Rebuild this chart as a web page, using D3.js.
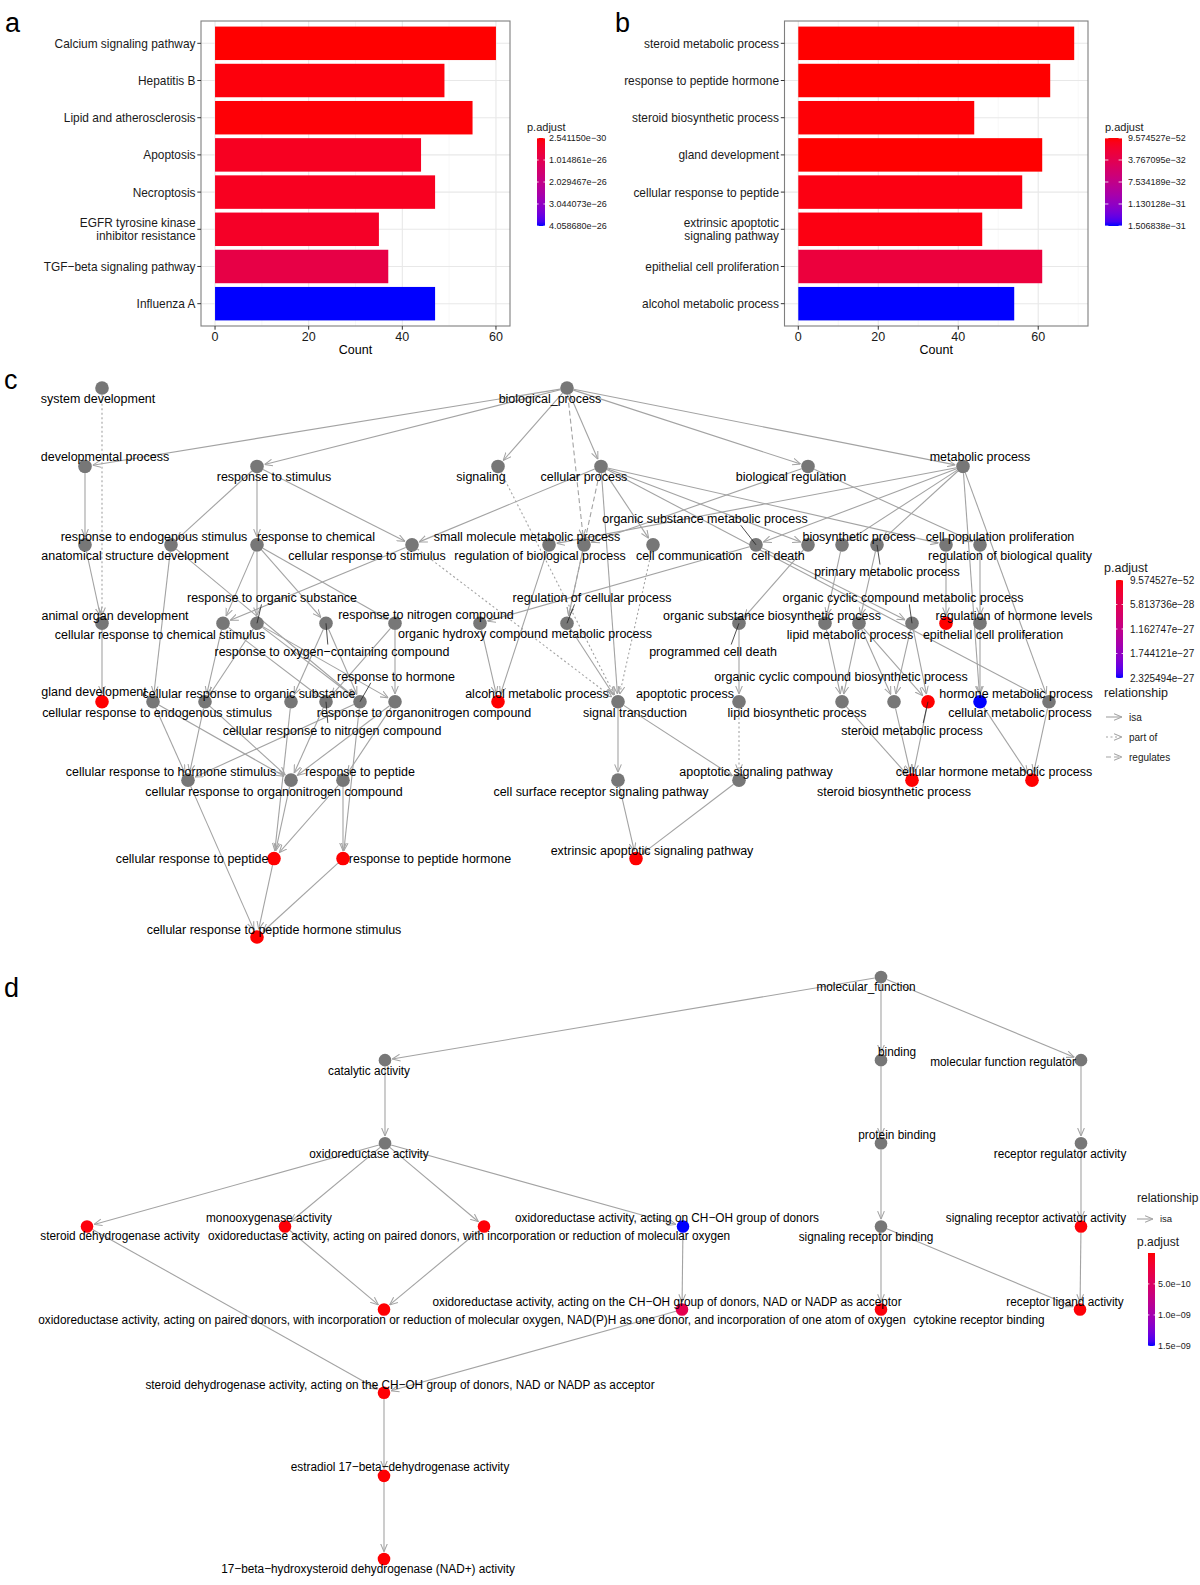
<!DOCTYPE html>
<html><head><meta charset="utf-8">
<script src="https://cdn.jsdelivr.net/npm/d3@7"></script>
<style>
body{margin:0;background:#fff}
text{font-family:"Liberation Sans",Arial,Helvetica,sans-serif}
</style></head>
<body><svg id="chart" width="1200" height="1585"></svg>
<script>
// ------------------------- DATA -------------------------
// Panel a: KEGG enrichment
const keggTerms = ["Calcium signaling pathway","Hepatitis B","Lipid and atherosclerosis","Apoptosis","Necroptosis","EGFR tyrosine kinase\ninhibitor resistance","TGF−beta signaling pathway","Influenza A"];
const keggCounts = [60, 49, 55, 44, 47, 35, 37, 47];
const keggPadj = [2.54115e-30, 8.0e-28, 4.0e-28, 2.9e-27, 2.7e-27, 3.7e-27, 8.6e-27, 4.05868e-26];
const keggLegendValues = [2.541150e-30, 1.014861e-26, 2.029467e-26, 3.044073e-26, 4.058680e-26];
const keggLegendLabels = ["2.541150e−30","1.014861e−26","2.029467e−26","3.044073e−26","4.058680e−26"];

// Panel b: GO enrichment
const goTerms = ["steroid metabolic process","response to peptide hormone","steroid biosynthetic process","gland development","cellular response to peptide","extrinsic apoptotic\nsignaling pathway","epithelial cell proliferation","alcohol metabolic process"];
const goCounts = [69, 63, 44, 61, 56, 46, 61, 54];
const goPadj = [9.574527e-52, 1e-40, 1.5e-33, 1e-38, 4.5e-33, 4.5e-33, 2.6e-32, 1.506838e-31];
const goLegendValues = [9.574527e-52, 3.767095e-32, 7.534189e-32, 1.130128e-31, 1.506838e-31];
const goLegendLabels = ["9.574527e−52","3.767095e−32","7.534189e−32","1.130128e−31","1.506838e−31"];

const countTicks = [0, 20, 40, 60];

// Panel c: GO BP graph (x = layout x, layer = layout rank, lx/ldy = repelled label position)
const bpNodes = [
 {id:"sysdev", label:"system development", x:102, layer:1, lx:98, ldy:0.13},
 {id:"bp", label:"biological_process", x:567, layer:1, lx:550, ldy:0.13},
 {id:"devproc", label:"developmental process", x:85, layer:2, lx:105, ldy:-0.13},
 {id:"respstim", label:"response to stimulus", x:257, layer:2, lx:274, ldy:0.13},
 {id:"signaling", label:"signaling", x:498, layer:2, lx:481, ldy:0.13},
 {id:"cellproc", label:"cellular process", x:601, layer:2, lx:584, ldy:0.13},
 {id:"bioreg", label:"biological regulation", x:808, layer:2, lx:791, ldy:0.13},
 {id:"metab", label:"metabolic process", x:963, layer:2, lx:980, ldy:-0.13},
 {id:"anatdev", label:"anatomical structure development", x:85, layer:3, lx:135, ldy:0.13},
 {id:"respendo", label:"response to endogenous stimulus", x:171, layer:3, lx:154, ldy:-0.11},
 {id:"respchem", label:"response to chemical", x:257, layer:3, lx:316, ldy:-0.11},
 {id:"cellrespstim", label:"cellular response to stimulus", x:412, layer:3, lx:367, ldy:0.13},
 {id:"smallmol", label:"small molecule metabolic process", x:549, layer:3, lx:527, ldy:-0.11},
 {id:"regbioproc", label:"regulation of biological process", x:584, layer:3, lx:540, ldy:0.13},
 {id:"cellcomm", label:"cell communication", x:653, layer:3, lx:689, ldy:0.13},
 {id:"orgsubmet", label:"organic substance metabolic process", x:756, layer:3, lx:705, ldy:-0.34, leader:true},
 {id:"celldeath", label:"cell death", x:808, layer:3, lx:778, ldy:0.13},
 {id:"biosyn", label:"biosynthetic process", x:842, layer:3, lx:859, ldy:-0.11},
 {id:"primmet", label:"primary metabolic process", x:877, layer:3, lx:887, ldy:0.34, leader:true},
 {id:"cellpopprol", label:"cell population proliferation", x:946, layer:3, lx:1000, ldy:-0.11},
 {id:"regbioqual", label:"regulation of biological quality", x:980, layer:3, lx:1010, ldy:0.13},
 {id:"animorg", label:"animal organ development", x:102, layer:4, lx:115, ldy:-0.10},
 {id:"cellrespchem", label:"cellular response to chemical stimulus", x:223, layer:4, lx:160, ldy:0.14},
 {id:"resporg", label:"response to organic substance", x:257, layer:4, lx:272, ldy:-0.33, leader:true},
 {id:"respoxy", label:"response to oxygen−containing compound", x:326, layer:4, lx:332, ldy:0.36, leader:true},
 {id:"respnit", label:"response to nitrogen compound", x:395, layer:4, lx:426, ldy:-0.11},
 {id:"orghydroxy", label:"organic hydroxy compound metabolic process", x:480, layer:4, lx:525, ldy:0.13},
 {id:"regcellproc", label:"regulation of cellular process", x:567, layer:4, lx:592, ldy:-0.33, leader:true},
 {id:"progdeath", label:"programmed cell death", x:739, layer:4, lx:713, ldy:0.36, leader:true},
 {id:"orgsubbiosyn", label:"organic substance biosynthetic process", x:825, layer:4, lx:772, ldy:-0.10},
 {id:"lipidmet", label:"lipid metabolic process", x:859, layer:4, lx:850, ldy:0.14},
 {id:"orgcyclic", label:"organic cyclic compound metabolic process", x:912, layer:4, lx:903, ldy:-0.33, leader:true},
 {id:"epithel", label:"epithelial cell proliferation", x:946, layer:4, lx:993, ldy:0.14, padj:3e-40},
 {id:"reghormlev", label:"regulation of hormone levels", x:980, layer:4, lx:1014, ldy:-0.10},
 {id:"glanddev", label:"gland development", x:102, layer:5, lx:94, ldy:-0.13, padj:1e-45},
 {id:"cellrespendo", label:"cellular response to endogenous stimulus", x:153, layer:5, lx:157, ldy:0.14},
 {id:"cellresporg", label:"cellular response to organic substance", x:205, layer:5, lx:249, ldy:-0.11},
 {id:"cellrespoxy", label:"", x:291, layer:5, lx:291, ldy:0},
 {id:"cellrespnit", label:"cellular response to nitrogen compound", x:326, layer:5, lx:332, ldy:0.36, leader:true},
 {id:"resphorm", label:"response to hormone", x:360, layer:5, lx:396, ldy:-0.33, leader:true},
 {id:"resporgnit", label:"response to organonitrogen compound", x:395, layer:5, lx:424, ldy:0.14},
 {id:"alcohol", label:"alcohol metabolic process", x:498, layer:5, lx:537, ldy:-0.11, padj:5e-30},
 {id:"sigtrans", label:"signal transduction", x:618, layer:5, lx:635, ldy:0.14},
 {id:"apopproc", label:"apoptotic process", x:739, layer:5, lx:685, ldy:-0.11},
 {id:"lipidbiosyn", label:"lipid biosynthetic process", x:842, layer:5, lx:797, ldy:0.14},
 {id:"orgcycbiosyn", label:"organic cyclic compound biosynthetic process", x:894, layer:5, lx:841, ldy:-0.33},
 {id:"steroidmet", label:"steroid metabolic process", x:928, layer:5, lx:912, ldy:0.36, leader:true, padj:9.574527e-52},
 {id:"hormmet", label:"hormone metabolic process", x:980, layer:5, lx:1016, ldy:-0.11, padj:2.325494e-27},
 {id:"cellmet", label:"cellular metabolic process", x:1049, layer:5, lx:1020, ldy:0.14},
 {id:"cellresphorm", label:"cellular response to hormone stimulus", x:188, layer:6, lx:171, ldy:-0.11},
 {id:"cellresporgnit", label:"cellular response to organonitrogen compound", x:291, layer:6, lx:274, ldy:0.14},
 {id:"resppep", label:"response to peptide", x:343, layer:6, lx:360, ldy:-0.11},
 {id:"cellsurf", label:"cell surface receptor signaling pathway", x:618, layer:6, lx:601, ldy:0.14},
 {id:"apopsig", label:"apoptotic signaling pathway", x:739, layer:6, lx:756, ldy:-0.11},
 {id:"steroidbiosyn", label:"steroid biosynthetic process", x:912, layer:6, lx:894, ldy:0.14, padj:2e-40},
 {id:"cellhormmet", label:"cellular hormone metabolic process", x:1032, layer:6, lx:994, ldy:-0.11, padj:1e-36},
 {id:"cellresppep", label:"cellular response to peptide", x:274, layer:7, lx:192, ldy:0, padj:1e-44},
 {id:"resppephorm", label:"response to peptide hormone", x:343, layer:7, lx:430, ldy:0, padj:1e-48},
 {id:"extrinsic", label:"extrinsic apoptotic signaling pathway", x:636, layer:7, lx:652, ldy:-0.11, padj:1e-38},
 {id:"cellresppephorm", label:"cellular response to peptide hormone stimulus", x:257, layer:8, lx:274, ldy:-0.10, padj:1e-42}
];
const bpEdges = [
 ["bp","devproc","isa"],["bp","respstim","isa"],["bp","signaling","isa"],["bp","cellproc","isa"],["bp","bioreg","isa"],["bp","metab","isa"],["bp","regbioproc","regulates"],
 ["sysdev","animorg","partof"],
 ["devproc","anatdev","isa"],["anatdev","animorg","isa"],["animorg","glanddev","isa"],
 ["respstim","respendo","isa"],["respstim","respchem","isa"],["respstim","cellrespstim","isa"],["cellproc","cellrespstim","isa"],
 ["respchem","cellrespchem","isa"],["respchem","resporg","isa"],["respchem","respoxy","isa"],["respchem","respnit","isa"],["cellrespstim","cellrespchem","isa"],
 ["cellrespstim","sigtrans","partof"],["signaling","sigtrans","partof"],["cellcomm","sigtrans","partof"],
 ["cellproc","regcellproc","regulates"],["regbioproc","regcellproc","isa"],["bioreg","regbioproc","isa"],["cellproc","cellcomm","isa"],["cellproc","sigtrans","isa"],["regcellproc","sigtrans","isa"],
 ["sigtrans","cellsurf","isa"],["sigtrans","apopsig","isa"],["apopproc","apopsig","partof"],["progdeath","apopproc","isa"],["celldeath","progdeath","isa"],["cellsurf","extrinsic","isa"],["apopsig","extrinsic","isa"],
 ["cellproc","celldeath","isa"],["cellproc","cellpopprol","isa"],["cellproc","cellmet","isa"],
 ["metab","smallmol","isa"],["metab","orgsubmet","isa"],["metab","biosyn","isa"],["metab","primmet","isa"],["metab","hormmet","isa"],["metab","cellmet","isa"],
 ["bioreg","regbioqual","isa"],["regbioqual","reghormlev","isa"],["reghormlev","hormmet","isa"],["cellpopprol","epithel","isa"],
 ["hormmet","cellhormmet","isa"],["cellmet","cellhormmet","isa"],
 ["biosyn","orgsubbiosyn","isa"],["primmet","lipidmet","isa"],["orgsubmet","orgcyclic","isa"],["orgsubmet","orghydroxy","isa"],
 ["smallmol","alcohol","isa"],["orghydroxy","alcohol","isa"],
 ["orgsubbiosyn","lipidbiosyn","isa"],["lipidmet","lipidbiosyn","isa"],["lipidmet","orgcycbiosyn","isa"],["orgcyclic","orgcycbiosyn","isa"],["lipidmet","steroidmet","isa"],["orgcyclic","steroidmet","isa"],
 ["steroidmet","steroidbiosyn","isa"],["lipidbiosyn","steroidbiosyn","isa"],["orgcycbiosyn","steroidbiosyn","isa"],
 ["resporg","cellresporg","isa"],["cellrespchem","cellresporg","isa"],["resporg","resporgnit","isa"],["resporg","resphorm","isa"],["respendo","resphorm","isa"],["respendo","cellrespendo","isa"],
 ["respnit","resporgnit","isa"],["respnit","cellrespnit","isa"],["cellrespchem","cellrespnit","isa"],["respoxy","cellrespoxy","isa"],["respoxy","resphorm","isa"],
 ["cellrespendo","cellresphorm","isa"],["resphorm","cellresphorm","isa"],["cellresporg","cellresphorm","isa"],["cellresporg","cellresporgnit","isa"],["cellrespnit","cellresporgnit","isa"],["resporgnit","cellresporgnit","isa"],["resporgnit","resppep","isa"],["cellrespendo","cellresporgnit","isa"],
 ["cellrespoxy","cellresppep","isa"],["cellresporgnit","cellresppep","isa"],["resppep","cellresppep","isa"],["resppep","resppephorm","isa"],["resphorm","resppephorm","isa"],
 ["cellresppep","cellresppephorm","isa"],["resppephorm","cellresppephorm","isa"],["cellresphorm","cellresppephorm","isa"]
];
const bpLegendValues = [9.574527e-52, 5.813736e-28, 1.162747e-27, 1.744121e-27, 2.325494e-27];
const bpLegendLabels = ["9.574527e−52","5.813736e−28","1.162747e−27","1.744121e−27","2.325494e−27"];
const relTypes = ["isa","partof","regulates"];
const relLabels = ["isa","part of","regulates"];

// Panel d: GO MF graph
const mfNodes = [
 {id:"mf", label:"molecular_function", x:881, layer:1, lx:866, ldy:0.12},
 {id:"catalytic", label:"catalytic activity", x:385, layer:2, lx:369, ldy:0.12},
 {id:"binding", label:"binding", x:881, layer:2, lx:897, ldy:-0.10},
 {id:"mfreg", label:"molecular function regulator", x:1081, layer:2, lx:1003, ldy:0.02},
 {id:"oxred", label:"oxidoreductase activity", x:385, layer:3, lx:369, ldy:0.12},
 {id:"protbind", label:"protein binding", x:881, layer:3, lx:897, ldy:-0.10},
 {id:"recregact", label:"receptor regulator activity", x:1081, layer:3, lx:1060, ldy:0.12},
 {id:"steroiddh", label:"steroid dehydrogenase activity", x:87, layer:4, lx:120, ldy:0.11, padj:3e-11},
 {id:"monoox", label:"monooxygenase activity", x:285, layer:4, lx:269, ldy:-0.11, padj:2e-11},
 {id:"paired", label:"oxidoreductase activity, acting on paired donors, with incorporation or reduction of molecular oxygen", x:484, layer:4, lx:469, ldy:0.11, padj:2e-11},
 {id:"chohdonors", label:"oxidoreductase activity, acting on CH−OH group of donors", x:683, layer:4, lx:667, ldy:-0.11, padj:1.5e-9},
 {id:"sigrecbind", label:"signaling receptor binding", x:881, layer:4, lx:866, ldy:0.12},
 {id:"sigrecact", label:"signaling receptor activator activity", x:1081, layer:4, lx:1036, ldy:-0.10, padj:2e-11},
 {id:"nadph", label:"oxidoreductase activity, acting on paired donors, with incorporation or reduction of molecular oxygen, NAD(P)H as one donor, and incorporation of one atom of oxygen", x:384, layer:5, lx:472, ldy:0.12, padj:1e-11},
 {id:"nadacc", label:"oxidoreductase activity, acting on the CH−OH group of donors, NAD or NADP as acceptor", x:682, layer:5, lx:667, ldy:-0.10, padj:3.6e-10},
 {id:"cytokine", label:"cytokine receptor binding", x:881, layer:5, lx:979, ldy:0.12, padj:3e-11},
 {id:"recligand", label:"receptor ligand activity", x:1080, layer:5, lx:1065, ldy:-0.10, padj:2e-11},
 {id:"steroidchoh", label:"steroid dehydrogenase activity, acting on the CH−OH group of donors, NAD or NADP as acceptor", x:384, layer:6, lx:400, ldy:-0.10, padj:1e-11},
 {id:"estradiol", label:"estradiol 17−beta−dehydrogenase activity", x:384, layer:7, lx:400, ldy:-0.11, padj:1e-11},
 {id:"hsd", label:"17−beta−hydroxysteroid dehydrogenase (NAD+) activity", x:384, layer:8, lx:368, ldy:0.12, padj:1e-11}
];
const mfEdges = [
 ["mf","catalytic","isa"],["mf","binding","isa"],["mf","mfreg","isa"],["catalytic","oxred","isa"],
 ["oxred","steroiddh","isa"],["oxred","monoox","isa"],["oxred","paired","isa"],["oxred","chohdonors","isa"],
 ["monoox","nadph","isa"],["paired","nadph","isa"],["steroiddh","steroidchoh","isa"],["chohdonors","nadacc","isa"],
 ["nadacc","steroidchoh","isa"],["steroidchoh","estradiol","isa"],["estradiol","hsd","isa"],
 ["binding","protbind","isa"],["protbind","sigrecbind","isa"],["sigrecbind","cytokine","isa"],["sigrecbind","recligand","isa"],
 ["mfreg","recregact","isa"],["recregact","sigrecact","isa"],["sigrecact","recligand","isa"]
];
const mfLegendValues = [2e-12, 1.5e-9];
const mfLegendTicks = [5.0e-10, 1.0e-9, 1.5e-9];
const mfLegendLabels = ["5.0e−10","1.0e−09","1.5e−09"];

// ------------------------- DRAWING -------------------------
const svg = d3.select("#chart");
const defs = svg.append("defs");
const TXT = "#1a1a1a";
const EDGE = "#a3a3a3";
const GREY_NODE = "#777777";
const mkColor = dom => d3.scaleLinear().domain(dom).range(["#FF0000","#0000FF"]).interpolate(d3.interpolateLab).clamp(true);

function ctext(g, x, y, str, size, sx, anchor, fill) {
  return g.append("text")
    .attr("transform", `translate(${x},${y}) scale(${sx},1)`)
    .attr("text-anchor", anchor || "middle")
    .attr("dy", "0.35em")
    .attr("font-size", size)
    .attr("fill", fill || "#000")
    .text(str);
}

function gradient(id, color, dom) {
  const lg = defs.append("linearGradient").attr("id", id).attr("x1",0).attr("y1",0).attr("x2",0).attr("y2",1);
  d3.range(0, 1.0001, 0.05).forEach(t => {
    lg.append("stop").attr("offset", t).attr("stop-color", color(dom[0] + t*(dom[1]-dom[0])));
  });
}

function colorLegend(g, cfg) {
  const {id, color, dom, ticks, labels, titleX, titleY, barX, barY, barW, barH, labelX, titleSize, labelSize} = cfg;
  gradient(id, color, dom);
  g.append("text").attr("x", titleX).attr("y", titleY).attr("font-size", titleSize).attr("fill", TXT).text("p.adjust");
  g.append("rect").attr("x", barX).attr("y", barY).attr("width", barW).attr("height", barH).attr("fill", `url(#${id})`);
  const ly = d3.scaleLinear().domain(dom).range([barY, barY + barH]);
  ticks.forEach((v, i) => {
    const yy = ly(v);
    g.append("line").attr("x1", barX).attr("x2", barX + barW*0.2).attr("y1", yy).attr("y2", yy).attr("stroke", "#fff").attr("stroke-width", 0.8);
    g.append("line").attr("x1", barX + barW*0.8).attr("x2", barX + barW).attr("y1", yy).attr("y2", yy).attr("stroke", "#fff").attr("stroke-width", 0.8);
    g.append("text").attr("x", labelX).attr("y", yy).attr("dy", "0.35em").attr("font-size", labelSize).attr("fill", TXT).text(labels[i]);
  });
}

function barPanel(cfg) {
  const {terms, counts, padj, legVals, legLabels, left, right, top, bottom, letter, letterX, leg} = cfg;
  const g = svg.append("g");
  const xMax = d3.max(counts);
  const x = d3.scaleLinear().domain([-0.05*xMax, 1.05*xMax]).range([left, right]);
  const y = d3.scaleBand().domain(terms).range([top, bottom]).paddingInner(0.1).paddingOuter(0.15);
  const dom = d3.extent(legVals);
  const color = mkColor(dom);
  // grid
  d3.range(10, 1.05*xMax, 20).forEach(v => g.append("line").attr("x1", x(v)).attr("x2", x(v)).attr("y1", top).attr("y2", bottom).attr("stroke", "#f3f3f3").attr("stroke-width", 0.6));
  countTicks.forEach(v => g.append("line").attr("x1", x(v)).attr("x2", x(v)).attr("y1", top).attr("y2", bottom).attr("stroke", "#e8e8e8").attr("stroke-width", 1.1));
  terms.forEach(t => g.append("line").attr("x1", left).attr("x2", right).attr("y1", y(t) + y.bandwidth()/2).attr("y2", y(t) + y.bandwidth()/2).attr("stroke", "#e8e8e8").attr("stroke-width", 1.1));
  // bars
  g.selectAll("rect.bar").data(terms).enter().append("rect")
    .attr("x", x(0)).attr("y", d => y(d))
    .attr("width", (d, i) => x(counts[i]) - x(0)).attr("height", y.bandwidth())
    .attr("fill", (d, i) => color(padj[i]));
  // border
  g.append("rect").attr("x", left).attr("y", top).attr("width", right - left).attr("height", bottom - top)
    .attr("fill", "none").attr("stroke", "#7f7f7f").attr("stroke-width", 1.1);
  // y axis
  terms.forEach(t => {
    const cy = y(t) + y.bandwidth()/2;
    g.append("line").attr("x1", left - 3.7).attr("x2", left).attr("y1", cy).attr("y2", cy).attr("stroke", "#333");
    const lines = t.split("\n");
    lines.forEach((ln, j) => {
      ctext(g, left - 5.5, cy + (j - (lines.length - 1)/2)*13, ln, 12.8, 0.93, "end", TXT);
    });
  });
  // x axis
  countTicks.forEach(v => {
    g.append("line").attr("x1", x(v)).attr("x2", x(v)).attr("y1", bottom).attr("y2", bottom + 3.7).attr("stroke", "#333");
    g.append("text").attr("x", x(v)).attr("y", bottom + 15).attr("text-anchor", "middle").attr("font-size", 12.5).attr("fill", TXT).text(v);
  });
  g.append("text").attr("x", (left + right)/2).attr("y", bottom + 28).attr("text-anchor", "middle").attr("font-size", 12.5).attr("fill", "#000").text("Count");
  svg.append("text").attr("x", letterX).attr("y", 32).attr("font-size", 27).attr("fill", "#000").text(letter);
  colorLegend(g, Object.assign({color, dom, ticks: legVals, labels: legLabels, titleY: 131, barY: 138, barH: 88, titleSize: 11, labelSize: 9}, leg));
}

barPanel({terms: keggTerms, counts: keggCounts, padj: keggPadj, legVals: keggLegendValues, legLabels: keggLegendLabels,
  left: 201, right: 510, top: 21, bottom: 326, letter: "a", letterX: 5,
  leg: {id: "gradA", titleX: 527, barX: 537, barW: 8, labelX: 549}});
barPanel({terms: goTerms, counts: goCounts, padj: goPadj, legVals: goLegendValues, legLabels: goLegendLabels,
  left: 784.5, right: 1088, top: 21, bottom: 326, letter: "b", letterX: 615,
  leg: {id: "gradB", titleX: 1105, barX: 1105, barW: 17, labelX: 1128}});

// arrow markers
function marker(id, color) {
  defs.append("marker").attr("id", id).attr("viewBox", "0 -5 10 10").attr("refX", 10).attr("refY", 0)
    .attr("markerWidth", 8).attr("markerHeight", 8).attr("markerUnits", "userSpaceOnUse").attr("orient", "auto")
    .append("path").attr("d", "M0,-4.2L10,0L0,4.2").attr("fill", "none").attr("stroke", color).attr("stroke-width", 1.3);
}
marker("arrowC", EDGE);
const dashFor = {isa: null, partof: "2,2.5", regulates: "5,3"};

function graphPanel(cfg) {
  const {nodes, edges, yRange, r, fontSize, sx, color, letter, letterY} = cfg;
  const g = svg.append("g");
  const x = d3.scaleLinear().domain([0, 1200]).range([0, 1200]);
  const y = d3.scaleLinear().domain([1, 8]).range(yRange);
  const pos = {};
  nodes.forEach(n => pos[n.id] = {x: x(n.x), y: y(n.layer), n});
  const eg = g.append("g");
  edges.forEach(([s, t, type]) => {
    const a = pos[s], b = pos[t];
    const dx = b.x - a.x, dy = b.y - a.y, L = Math.hypot(dx, dy);
    eg.append("line")
      .attr("x1", a.x + dx/L*r).attr("y1", a.y + dy/L*r)
      .attr("x2", b.x - dx/L*(r + 1)).attr("y2", b.y - dy/L*(r + 1))
      .attr("stroke", EDGE).attr("stroke-width", 1.1)
      .attr("stroke-dasharray", dashFor[type])
      .attr("marker-end", "url(#arrowC)");
  });
  g.append("g").selectAll("circle").data(nodes).enter().append("circle")
    .attr("cx", d => pos[d.id].x).attr("cy", d => pos[d.id].y).attr("r", r)
    .attr("fill", d => d.padj == null ? GREY_NODE : color(d.padj));
  const lg = g.append("g");
  nodes.forEach(n => {
    if (!n.label) return;
    const lx = x(n.lx), ly = y(n.layer + n.ldy);
    const t = ctext(lg, lx, ly, n.label, fontSize, sx, "middle", "#000");
    if (n.leader) {
      const w = t.node().getComputedTextLength() * sx;
      const p = pos[n.id];
      const sx0 = Math.max(lx - w/2, Math.min(lx + w/2, p.x + (lx - p.x)*0.3));
      const sy0 = ly + (p.y > ly ? 7 : -7);
      lg.append("line").attr("x1", sx0).attr("y1", sy0).attr("x2", p.x).attr("y2", p.y)
        .attr("stroke", "#222").attr("stroke-width", 0.8);
    }
  });
  svg.append("text").attr("x", 4).attr("y", letterY).attr("font-size", 27).attr("fill", "#000").text(letter);
  return g;
}

const colorC = mkColor([bpLegendValues[0], bpLegendValues[4]]);
const gC = graphPanel({nodes: bpNodes, edges: bpEdges, yRange: [388, 937], r: 6.8, fontSize: 13.3, sx: 0.94, color: colorC, letter: "c", letterY: 389});
colorLegend(gC, {id: "gradC", color: colorC, dom: [bpLegendValues[0], bpLegendValues[4]], ticks: bpLegendValues, labels: bpLegendLabels,
  titleX: 1104, titleY: 572, barX: 1116, barY: 580, barW: 7, barH: 98, labelX: 1130, titleSize: 12.5, labelSize: 10});
gC.append("text").attr("x", 1104).attr("y", 697).attr("font-size", 12.5).attr("fill", TXT).text("relationship");
relTypes.forEach((tp, i) => {
  const yy = 717 + i*20;
  gC.append("line").attr("x1", 1106).attr("x2", 1122).attr("y1", yy).attr("y2", yy)
    .attr("stroke", EDGE).attr("stroke-width", 1.1).attr("stroke-dasharray", dashFor[tp]).attr("marker-end", "url(#arrowC)");
  gC.append("text").attr("x", 1129).attr("y", yy).attr("dy", "0.35em").attr("font-size", 10).attr("fill", TXT).text(relLabels[i]);
});

const colorD = mkColor(mfLegendValues);
const gD = graphPanel({nodes: mfNodes, edges: mfEdges, yRange: [977, 1559], r: 6.3, fontSize: 12.5, sx: 0.945, color: colorD, letter: "d", letterY: 997});
gD.append("text").attr("x", 1137).attr("y", 1202).attr("font-size", 12).attr("fill", TXT).text("relationship");
gD.append("line").attr("x1", 1137).attr("x2", 1153).attr("y1", 1219).attr("y2", 1219).attr("stroke", EDGE).attr("stroke-width", 1.1).attr("marker-end", "url(#arrowC)");
gD.append("text").attr("x", 1160).attr("y", 1219).attr("dy", "0.35em").attr("font-size", 9.5).attr("fill", TXT).text("isa");
colorLegend(gD, {id: "gradD", color: colorD, dom: mfLegendValues, ticks: mfLegendTicks, labels: mfLegendLabels,
  titleX: 1137, titleY: 1246, barX: 1148, barY: 1253, barW: 7, barH: 93, labelX: 1158, titleSize: 12, labelSize: 9});
</script></body></html>
